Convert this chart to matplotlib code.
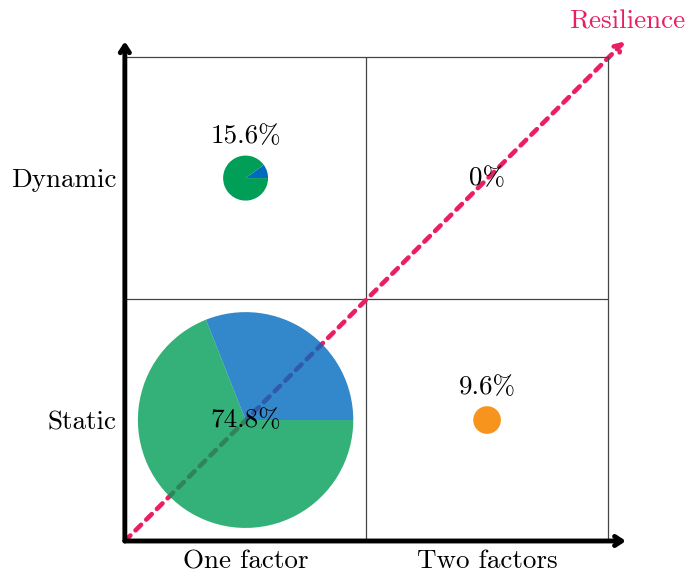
import matplotlib.pyplot as plt

plt.rcParams['font.family'] = ['cmr10', 'DejaVu Sans']
plt.rcParams['axes.unicode_minus'] = False

# cells: (factors, behaviour)
cell_x = [0.5, 0.5, 1.5, 1.5]
cell_y = [0.5, 1.5, 0.5, 1.5]
share = [74.8, 15.6, 9.6, 0.0]
slices = [[0.31, 0.69], [0.10, 0.90], [1.0], []]
slice_colors = [['#006BBE', '#009E57'], ['#006BBE', '#009E57'], ['#F7941D'], []]
slice_alpha = [0.8, 1.0, 1.0, 1.0]

x_labels = ['One factor', 'Two factors']
y_labels = ['Static', 'Dynamic']

pink = '#E91E63'
fs = 19.5

fig = plt.figure(figsize=(6.86, 5.74), dpi=100)
ax = fig.add_axes([0.182, 0.0575, 0.704, 0.843])

# resilience diagonal
ax.annotate('', xy=(2.07, 2.065), xytext=(0, 0), xycoords='data',
            arrowprops=dict(arrowstyle='->,head_length=0.5,head_width=0.3',
                            color=pink, lw=3.3, linestyle=(0, (1.7, 1.6)),
                            shrinkA=0, shrinkB=0),
            annotation_clip=False, zorder=1)
ax.text(2.08, 2.145, 'Resilience', color=pink, fontsize=fs,
        ha='center', va='center')

for i in range(len(share)):
    r = share[i] / 74.8 * 0.446
    if slices[i]:
        ax.pie(slices[i], colors=slice_colors[i], center=(cell_x[i], cell_y[i]),
               radius=r, startangle=0, counterclock=True, frame=True,
               wedgeprops=dict(alpha=slice_alpha[i], linewidth=0))
    ly = cell_y[i] if (r > 0.2 or r == 0) else cell_y[i] + r + 0.078
    ax.text(cell_x[i], ly, '%g%%' % share[i] if share[i] else '0%',
            fontsize=fs, ha='center', va='center', zorder=5)

# grid
ax.axvline(1, color='#444444', lw=0.9, zorder=0)
ax.axhline(1, color='#444444', lw=0.9, zorder=0)

ax.set_xlim(0, 2)
ax.set_ylim(0, 2)
ax.set_aspect('auto')
for side in ['top', 'right']:
    ax.spines[side].set_color('#444444')
    ax.spines[side].set_linewidth(0.9)
for side in ['left', 'bottom']:
    ax.spines[side].set_visible(False)

# thick axis arrows
arrow = dict(arrowstyle='->,head_length=0.5,head_width=0.33', color='black',
             lw=3.5, shrinkA=0, shrinkB=0)
ax.annotate('', xy=(2.075, 0), xytext=(0, 0), arrowprops=arrow,
            annotation_clip=False)
ax.annotate('', xy=(0, 2.065), xytext=(0, 0), arrowprops=arrow,
            annotation_clip=False)

ax.set_xticks([0.5, 1.5])
ax.set_xticklabels(x_labels, fontsize=fs)
ax.set_yticks([0.5, 1.5])
ax.set_yticklabels(y_labels, fontsize=fs)
ax.tick_params(length=0, pad=6)

fig.savefig('out.png', dpi=100)
